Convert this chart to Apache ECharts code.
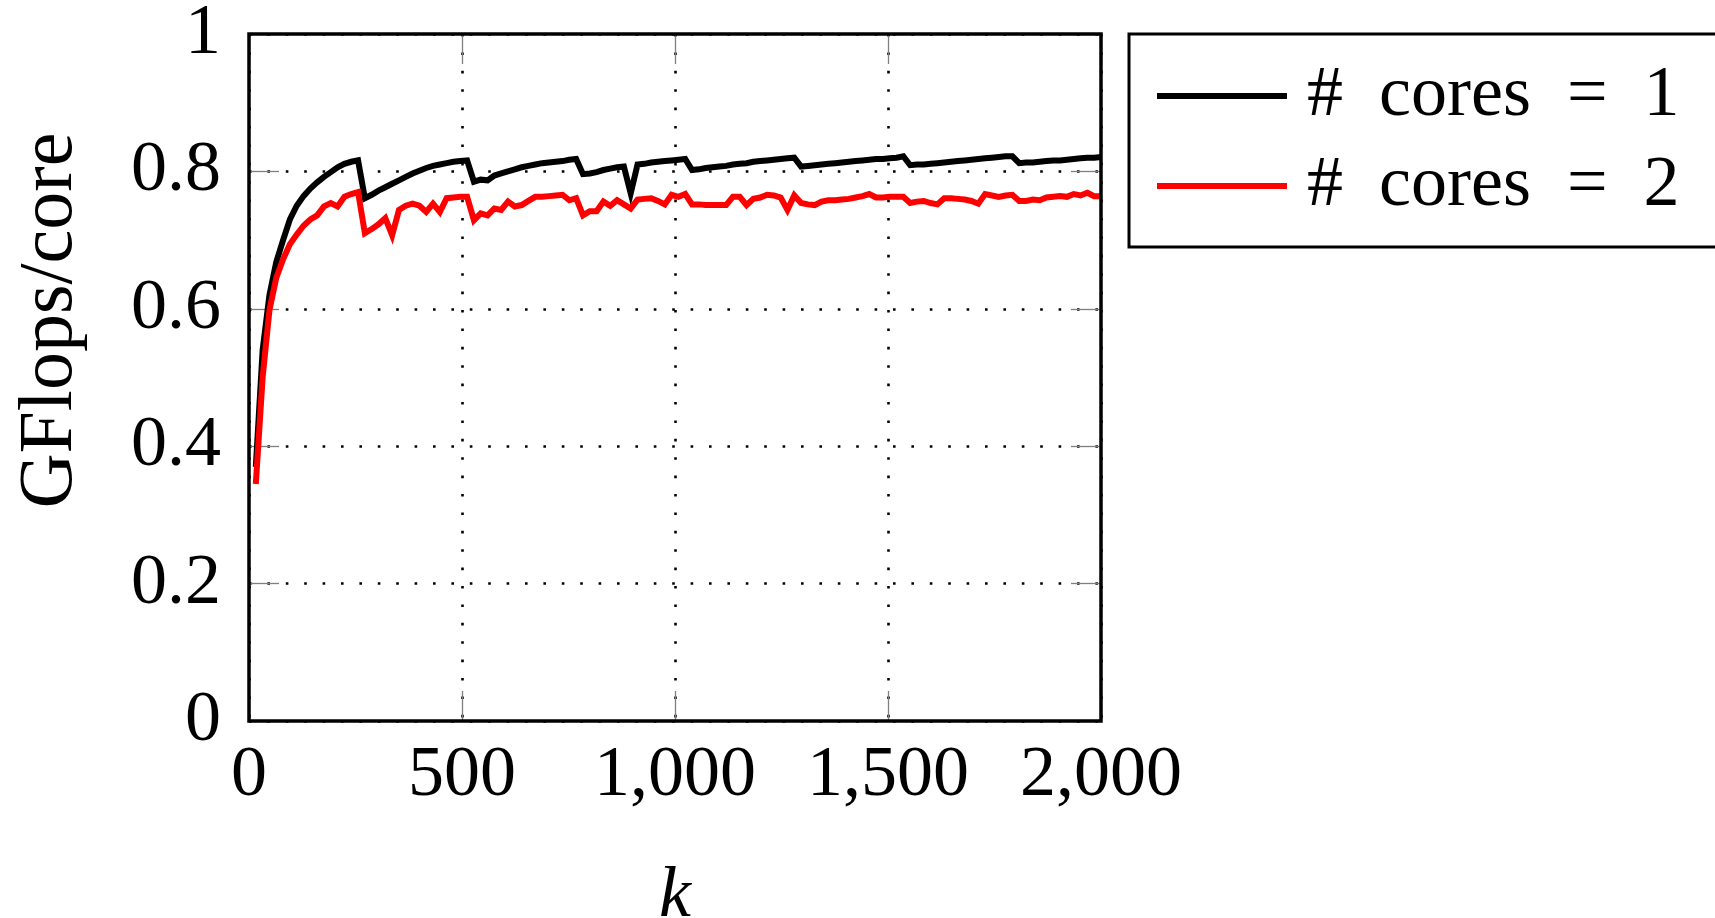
<!DOCTYPE html>
<html>
<head>
<meta charset="utf-8">
<script src="https://cdn.jsdelivr.net/npm/echarts@6/dist/echarts.min.js"></script>
<style>
html,body{margin:0;padding:0;background:#fff;}
#chart{width:1715px;height:918px;}
</style>
</head>
<body>
<div id="chart"></div>
<script>
const kValues = [16,32,48,64,80,96,112,128,144,160,176,192,208,224,240,256,272,288,304,320,336,352,368,384,400,416,432,448,464,480,496,512,528,544,560,576,592,608,624,640,656,672,688,704,720,736,752,768,784,800,816,832,848,864,880,896,912,928,944,960,976,992,1008,1024,1040,1056,1072,1088,1104,1120,1136,1152,1168,1184,1200,1216,1232,1248,1264,1280,1296,1312,1328,1344,1360,1376,1392,1408,1424,1440,1456,1472,1488,1504,1520,1536,1552,1568,1584,1600,1616,1632,1648,1664,1680,1696,1712,1728,1744,1760,1776,1792,1808,1824,1840,1856,1872,1888,1904,1920,1936,1952,1968,1984,2000];

const cores1 = [0.370,0.540,0.620,0.668,0.700,0.730,0.750,0.764,0.775,0.784,0.792,0.799,0.806,0.811,0.814,0.816,
0.761,0.766,0.772,0.777,0.782,0.787,0.792,0.797,0.801,0.805,0.808,0.810,0.812,0.814,0.815,0.816,
0.785,0.788,0.787,0.794,0.797,0.800,0.803,0.806,0.808,0.810,0.812,0.813,0.814,0.815,0.817,0.818,
0.796,0.797,0.799,0.802,0.804,0.806,0.807,0.768,0.810,0.811,0.813,0.814,0.815,0.816,0.817,0.818,
0.802,0.803,0.805,0.806,0.807,0.808,0.810,0.811,0.812,0.814,0.815,0.816,0.817,0.818,0.819,0.820,
0.807,0.808,0.809,0.810,0.811,0.812,0.813,0.814,0.815,0.816,0.817,0.818,0.818,0.819,0.820,0.822,
0.809,0.810,0.810,0.811,0.812,0.813,0.814,0.815,0.816,0.817,0.818,0.819,0.820,0.821,0.822,0.822,
0.812,0.813,0.813,0.814,0.815,0.816,0.816,0.817,0.818,0.819,0.820,0.820,0.821];

const cores2 = [0.345,0.500,0.598,0.645,0.672,0.694,0.708,0.721,0.730,0.736,0.749,0.754,0.749,0.763,0.767,0.770,
0.710,0.716,0.723,0.732,0.707,0.744,0.750,0.753,0.750,0.741,0.753,0.741,0.761,0.762,0.763,0.763,
0.729,0.739,0.736,0.746,0.744,0.756,0.749,0.751,0.757,0.763,0.763,0.764,0.765,0.766,0.758,0.761,
0.736,0.742,0.742,0.756,0.750,0.758,0.752,0.746,0.759,0.760,0.761,0.757,0.752,0.766,0.763,0.767,
0.752,0.752,0.751,0.751,0.751,0.751,0.763,0.763,0.751,0.760,0.762,0.766,0.765,0.762,0.744,0.765,
0.754,0.752,0.751,0.756,0.758,0.758,0.759,0.760,0.762,0.764,0.767,0.762,0.762,0.763,0.763,0.763,
0.754,0.756,0.757,0.754,0.752,0.761,0.761,0.760,0.759,0.757,0.753,0.767,0.765,0.763,0.765,0.766,
0.757,0.757,0.759,0.758,0.762,0.763,0.764,0.763,0.767,0.765,0.769,0.764,0.764];

const seriesNames = ['# cores = 1', '# cores = 2'];
const xTickValues = [0, 500, 1000, 1500, 2000];
const xTickLabels = ['0', '500', '1,000', '1,500', '2,000'];
const yTickValues = [0, 0.2, 0.4, 0.6, 0.8, 1];
const yTickLabels = ['0', '0.2', '0.4', '0.6', '0.8', '1'];

const FONT = '"Liberation Serif", "DejaVu Serif", serif';
const pairs = (ys) => kValues.map((k, i) => [k, ys[i]]);

const chart = echarts.init(document.getElementById('chart'), null, {renderer: 'canvas'});
const dotted = {color: '#000', width: 2.6, type: [2.6, 15.8]};
const tick = {show: true, inside: true, length: 30, lineStyle: {color: '#7f7f7f', width: 1.3}};
const noLine = {show: false, onZero: false};

chart.setOption({
  animation: false,
  backgroundColor: '#fff',
  grid: {left: 249, right: 614, top: 34, bottom: 197, containLabel: false, outerBoundsMode: 'none',
    show: true, borderColor: '#000', borderWidth: 3.5, backgroundColor: 'transparent', z: 10},
  legend: {
    data: seriesNames,
    formatter: name => name.replace(/ /g, '\u2002'),
    orient: 'vertical',
    left: 1129, top: 34,
    icon: 'rect',
    itemWidth: 130, itemHeight: 6,
    itemGap: 18,
    padding: [26, 150, 25, 28],
    borderColor: '#000', borderWidth: 3,
    selectedMode: false,
    textStyle: {fontFamily: FONT, fontSize: 72, color: '#000', padding: [0, 0, 0, 15]}
  },
  xAxis: [{
    type: 'value', min: 0, max: 2000, interval: 500,
    name: 'k', nameLocation: 'middle', nameGap: 140,
    nameTextStyle: {fontFamily: FONT, fontSize: 72, fontStyle: 'italic', color: '#000'},
    axisLine: noLine,
    axisTick: tick,
    splitLine: {show: true, lineStyle: dotted},
    axisLabel: {fontFamily: FONT, fontSize: 72, color: '#000', margin: 19,
      formatter: v => { const i = xTickValues.indexOf(v); return i >= 0 ? xTickLabels[i] : ''; }}
  }, {
    type: 'value', min: 0, max: 2000, interval: 500, position: 'top',
    axisLine: noLine, axisTick: tick, splitLine: {show: false}, axisLabel: {show: false}
  }],
  yAxis: [{
    type: 'value', min: 0, max: 1, interval: 0.2,
    name: 'GFlops/core', nameLocation: 'middle', nameGap: 160,
    nameTextStyle: {fontFamily: FONT, fontSize: 76, color: '#000', padding: [0, 0, 0, 114]},
    axisLine: noLine,
    axisTick: tick,
    splitLine: {show: true, lineStyle: dotted},
    axisLabel: {fontFamily: FONT, fontSize: 72, color: '#000', margin: 28,
      formatter: v => { const i = yTickValues.findIndex(t => Math.abs(t - v) < 1e-9); return i >= 0 ? yTickLabels[i] : ''; }}
  }, {
    type: 'value', min: 0, max: 1, interval: 0.2, position: 'right',
    axisLine: noLine, axisTick: tick, splitLine: {show: false}, axisLabel: {show: false}
  }],
  series: [{
    name: seriesNames[0], type: 'line', data: pairs(cores1),
    showSymbol: false, symbol: 'none', color: '#000',
    lineStyle: {color: '#000', width: 6, join: 'miter', miterLimit: 10}
  }, {
    name: seriesNames[1], type: 'line', data: pairs(cores2),
    showSymbol: false, symbol: 'none', color: '#ff0000',
    lineStyle: {color: '#ff0000', width: 6, join: 'miter', miterLimit: 10}
  }]
});
</script>
</body>
</html>
